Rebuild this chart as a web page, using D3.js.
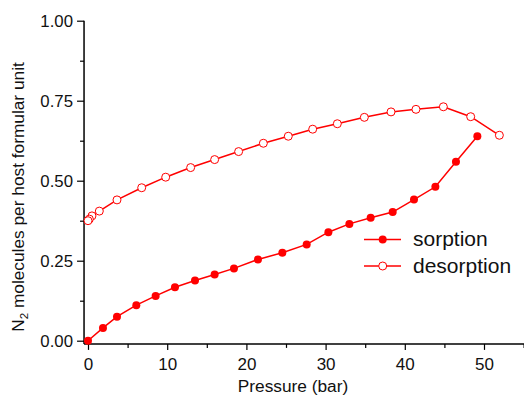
<!DOCTYPE html>
<html>
<head>
<meta charset="utf-8">
<script src="https://cdn.jsdelivr.net/npm/d3@7"></script>
<style>
  html, body { margin: 0; padding: 0; background: #fff; }
  svg { display: block; font-family: "Liberation Sans", Arial, sans-serif; }
</style>
</head>
<body>
<svg id="chart" width="524" height="396"></svg>
<script>
// N2 uptake isotherm: pressure (bar) vs molecules per host formula unit
const sorptionP = [0, 1.89, 3.66, 6.10, 8.54, 10.98, 13.51, 15.99, 18.43, 21.46, 24.54, 27.61, 30.35, 33.0, 35.69, 38.47, 41.16, 43.86, 46.46, 49.16];
const sorptionN = [0, 0.040, 0.075, 0.111, 0.140, 0.167, 0.188, 0.207, 0.226, 0.254, 0.275, 0.301, 0.339, 0.365, 0.384, 0.402, 0.441, 0.481, 0.559, 0.639];

const desorptionP = [51.94, 48.32, 44.87, 41.41, 38.26, 34.89, 31.48, 28.37, 25.29, 22.14, 19.02, 15.99, 12.96, 9.81, 6.78, 3.66, 1.43, 0.5, 0.17, 0.0];
const desorptionN = [0.642, 0.700, 0.731, 0.723, 0.715, 0.698, 0.678, 0.661, 0.639, 0.617, 0.591, 0.566, 0.541, 0.511, 0.478, 0.440, 0.405, 0.390, 0.380, 0.375];

const xTicks = [0, 10, 20, 30, 40, 50];
const yTicks = [0, 0.25, 0.5, 0.75, 1.0];
const seriesNames = ["sorption", "desorption"];

const svg = d3.select("#chart");
const red = "#ff0000";
const ink = "#111";

const x = d3.scaleLinear().domain([0, 55]).range([88, 523.6]);
const y = d3.scaleLinear().domain([0, 1]).range([340.7, 20.7]);
const axisLeftX = x(-0.5);
const axisBottomY = y(-0.01);

// Bottom axis with minor ticks
const gx = svg.append("g").attr("transform", `translate(0,${axisBottomY})`);
gx.call(d3.axisBottom(x).tickValues(xTicks).tickFormat(d3.format("d")).tickSize(6).tickPadding(8));
gx.append("g").call(d3.axisBottom(x).tickValues([5, 15, 25, 35, 45, 55]).tickFormat("").tickSize(4));
gx.selectAll(".domain").remove();
gx.selectAll(".tick text").attr("font-size", 17);
gx.append("line").attr("x1", axisLeftX).attr("x2", 524).attr("stroke", "#000").attr("stroke-width", 1.5);

// Left axis with minor ticks
const gy = svg.append("g").attr("transform", `translate(${axisLeftX},0)`);
gy.call(d3.axisLeft(y).tickValues(yTicks).tickFormat(d3.format(".2f")).tickSize(7).tickPadding(4));
gy.append("g").call(d3.axisLeft(y).tickValues([0.125, 0.375, 0.625, 0.875]).tickFormat("").tickSize(4));
gy.selectAll(".domain").remove();
gy.selectAll(".tick text").attr("font-size", 16.8);
gy.append("line").attr("y1", y(1)).attr("y2", axisBottomY).attr("stroke", "#000").attr("stroke-width", 1.5);

svg.selectAll(".tick line").attr("stroke", "#000").attr("stroke-width", 1.2);
svg.selectAll(".tick text").attr("fill", ink)
   .attr("font-family", "Liberation Sans, Arial, sans-serif");

// Axis titles
svg.append("text")
  .attr("x", 293).attr("y", 392)
  .attr("text-anchor", "middle")
  .attr("font-size", 17.3).attr("fill", ink)
  .text("Pressure (bar)");

const yTitle = svg.append("text")
  .attr("transform", "translate(24,197) rotate(-90)")
  .attr("text-anchor", "middle")
  .attr("font-size", 17.3).attr("fill", ink);
yTitle.append("tspan").text("N");
yTitle.append("tspan").attr("font-size", 11.5).attr("dy", 4).text("2");
yTitle.append("tspan").attr("dy", -4).text(" molecules per host formular unit");

// Series lines and markers
const line = d3.line().x(d => x(d[0])).y(d => y(d[1]));
const sorption = sorptionP.map((p, i) => [p, sorptionN[i]]);
const desorption = desorptionP.map((p, i) => [p, desorptionN[i]]);

svg.append("path").datum(desorption).attr("d", line)
  .attr("fill", "none").attr("stroke", red).attr("stroke-width", 1.5);
svg.append("path").datum(sorption).attr("d", line)
  .attr("fill", "none").attr("stroke", red).attr("stroke-width", 1.5);

svg.append("g").selectAll("circle").data(desorption).join("circle")
  .attr("cx", d => x(d[0])).attr("cy", d => y(d[1])).attr("r", 4)
  .attr("fill", "#fff").attr("stroke", red).attr("stroke-width", 1);
svg.append("g").selectAll("circle").data(sorption).join("circle")
  .attr("cx", d => x(d[0])).attr("cy", d => y(d[1])).attr("r", 4)
  .attr("fill", red);

// Legend
const legend = svg.append("g");
const legendRows = [
  { name: seriesNames[0], cy: 239.5, filled: true, baseline: 246 },
  { name: seriesNames[1], cy: 266, filled: false, baseline: 273 }
];
legendRows.forEach(r => {
  legend.append("line").attr("x1", 364).attr("x2", 401).attr("y1", r.cy).attr("y2", r.cy)
    .attr("stroke", red).attr("stroke-width", 1.5);
  legend.append("circle").attr("cx", 382.7).attr("cy", r.cy).attr("r", 4)
    .attr("fill", r.filled ? red : "#fff").attr("stroke", red).attr("stroke-width", r.filled ? 0 : 1);
  legend.append("text").attr("x", 413).attr("y", r.baseline)
    .attr("font-size", 21).attr("fill", ink).text(r.name);
});
</script>
</body>
</html>
